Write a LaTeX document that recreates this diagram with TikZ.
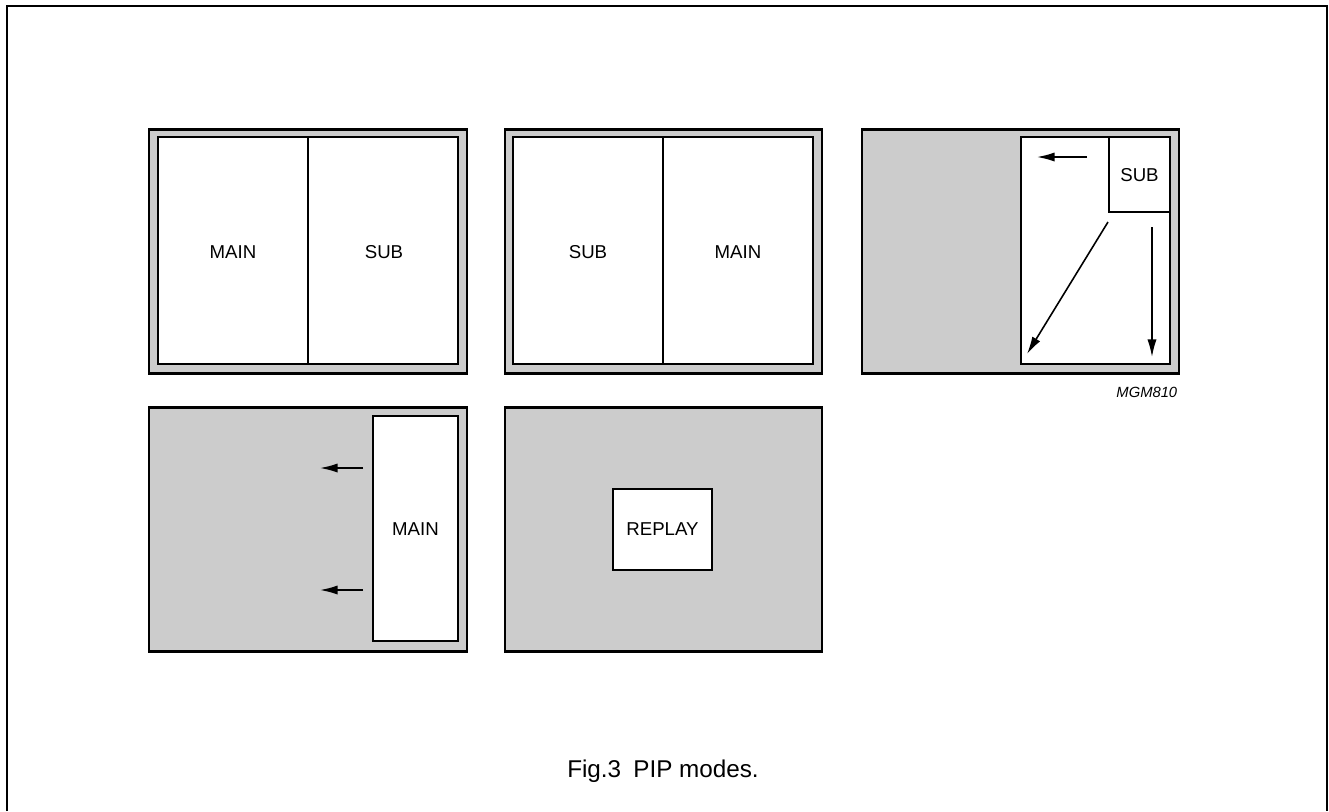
\documentclass[tikz,border=0pt]{standalone}
\usepackage{fontspec}
\setmainfont{Liberation Sans}
\usetikzlibrary{arrows.meta}
\definecolor{tvgray}{HTML}{CCCCCC}
\tikzset{> = {Latex[length=5pt,width=2.6pt]}, every picture/.style={line width=0.45pt},
  tv/.style={draw,fill=tvgray,line width=0.85pt},
  win/.style={draw,fill=white,line width=0.45pt},
  lbl/.style={font=\fontsize{5.3}{6}\selectfont}}

\begin{document}
\begin{tikzpicture}[x=0.01cm,y=-0.01cm]
\useasboundingbox (0,0) rectangle (1329,811);
\draw[line width=0.65pt] (7,811) -- (7,6) -- (1327,6) -- (1327,811);

% top row
\path[tv] (149,129) rectangle (467,373);
\path[win] (158,137) rectangle (458,364);
\draw (308,137) -- (308,364);

\path[tv] (505,129) rectangle (822,373);
\path[win] (513,137) rectangle (813,364);
\draw (663,137) -- (663,364);

\path[tv] (862,129) rectangle (1179,373);
\path[win] (1021,137) rectangle (1170,364);
\path[win] (1109,137) rectangle (1170,212);

% bottom row
\path[tv] (149,407) rectangle (467,651);
\path[win] (373,416) rectangle (458,641);

\path[tv] (505,407) rectangle (822,651);
\path[win] (613,489) rectangle (712,570);

\begin{scope}[every node/.style={lbl}]
\node (main1) at (233,252) {MAIN};
\node (sub1) at (384,252) {SUB};
\node (sub2) at (588,252) {SUB};
\node (main2) at (738,252) {MAIN};
\node (sub3) at (1139.5,175) {SUB};
\node (main4) at (415.5,529) {MAIN};
\node (replay) at (662.5,529.5) {REPLAY};
\node[font=\fontsize{4.2}{5}\selectfont\itshape, anchor=east, inner sep=0pt] (code) at (1178,392) {MGM810};
\end{scope}

\coordinate (a1s) at (1087,157);
\coordinate (a1e) at (1037,157);
\coordinate (a2s) at (1108,222);
\coordinate (a2e) at (1027,354);
\coordinate (a3s) at (1152,227);
\coordinate (a3e) at (1152,357);
\coordinate (b1s) at (363,468);
\coordinate (b1e) at (320,468);
\coordinate (b2s) at (363,590);
\coordinate (b2e) at (320,590);

\begin{scope}[every path/.style={->}]
    \draw (a1s) -- (a1e);
    \draw (a2s) -- (a2e);
    \draw (a3s) -- (a3e);
    \draw (b1s) -- (b1e);
    \draw (b2s) -- (b2e);
\end{scope}

\node[font=\fontsize{6.9}{8}\selectfont] (caption) at (663,771) {Fig.3\hspace{0.5em}PIP modes.};
\end{tikzpicture}
\end{document}
